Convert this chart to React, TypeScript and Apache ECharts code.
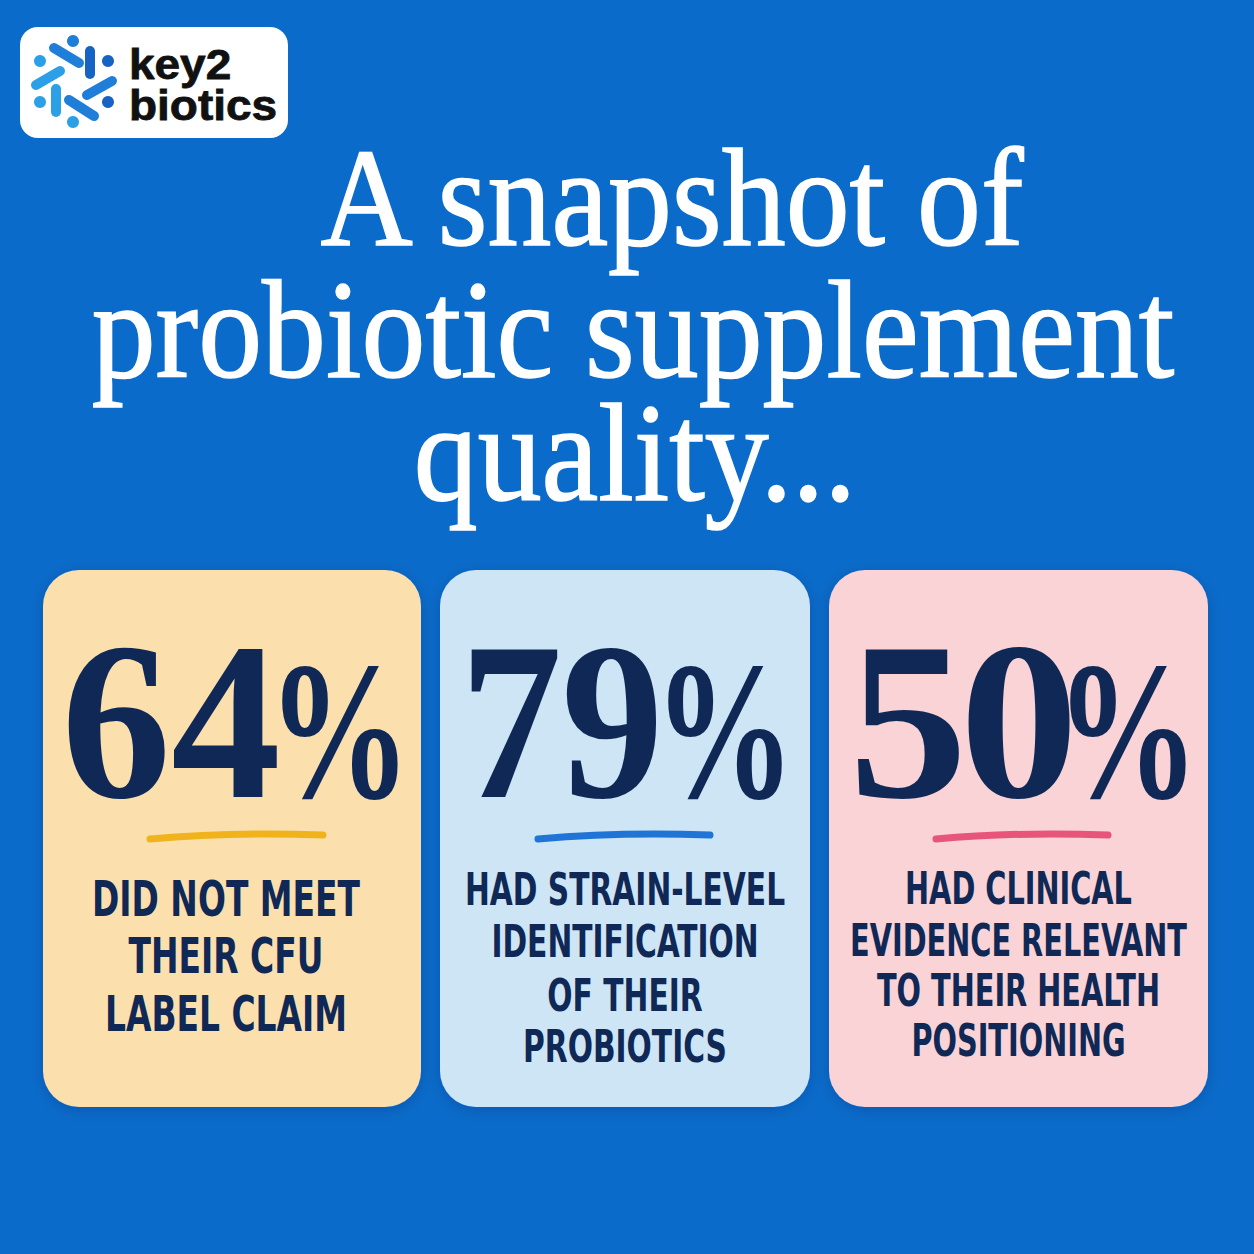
import { useEffect, useRef } from 'react'
import * as echarts from 'echarts'
import type { EChartsOption } from 'echarts'

// chart content
const brandLines = ['key2', 'biotics']
const titleLines = ['A snapshot of', 'probiotic supplement', 'quality...']
const statValues = [64, 79, 50]
const statLabels = [
  ['DID NOT MEET', 'THEIR CFU', 'LABEL CLAIM'],
  ['HAD STRAIN-LEVEL', 'IDENTIFICATION', 'OF THEIR', 'PROBIOTICS'],
  ['HAD CLINICAL', 'EVIDENCE RELEVANT', 'TO THEIR HEALTH', 'POSITIONING'],
]

// styles
const BG = '#0b6bca'
const NAVY = '#0f2856'
const CARD_FILL = ['#fbe0ae', '#cde5f5', '#f9d3d5']
const ACCENT = ['#f1b31c', '#1f74d6', '#e8557a']
const ICON_LIGHT = '#2ba0e6'
const ICON_MID = '#1f7fd8'
const ICON_DARK = '#1763c3'

// layout
const SIZE = 1254
const TITLE_CENTERS = [672, 633, 635]
const TITLE_MIDS = [198, 330, 453]
const TITLE_FONT = "140px 'Liberation Serif', 'Times New Roman', serif"
const BRAND_FONT = "bold 43px 'Liberation Sans', Arial, sans-serif"
const CARD_X = [43, 440, 829]
const CARD_W = [378, 370, 379]
const CARD_Y = 570
const CARD_H = 537
const DIGIT_FONT = "bold 224px 'Liberation Serif', 'Times New Roman', serif"
const PCT_FONT = "bold 198px 'Liberation Serif', 'Times New Roman', serif"
const DIGIT_X = [68, 471, 857]
const DIGIT_W = [209, 185, 213]
const DIGIT_GAP = 9
const PCT_X = [282, 668, 1070]
const PCT_W = [116, 114, 116]
const DIGIT_MID = 721
const PCT_MID = 730
const LABEL_ROWS = [
  [898, 955, 1013],
  [889, 941, 995, 1046],
  [888, 940, 990, 1040],
]
const LABEL_WIDTH = [268, 320, 337]
const LABEL_FONT_SIZE = [50, 45, 45]
const UNDERLINE_X = [
  [150, 323],
  [538, 710],
  [936, 1108],
]

let measureCtx: CanvasRenderingContext2D | null = null
function measure(text: string, font: string) {
  if (!measureCtx) measureCtx = document.createElement('canvas').getContext('2d')
  measureCtx!.font = font
  const m = measureCtx!.measureText(text)
  return { width: m.width, inkL: -m.actualBoundingBoxLeft, inkR: m.actualBoundingBoxRight }
}

function labelFont(size: number) {
  return `bold ${size}px 'DejaVu Sans Condensed', 'DejaVu Sans', sans-serif`
}

// glyph-by-glyph placement so the ink of the characters fills [x, x + w]
function inkRow(chars: string[], font: string, x: number, w: number, gap: number, y: number) {
  const inks = chars.map((c) => measure(c, font))
  const total = inks.reduce((s, m) => s + (m.inkR - m.inkL), 0)
  const sx = (w - gap * (chars.length - 1)) / total
  let cursor = x
  return chars.map((c, k) => {
    const m = inks[k]
    const el = {
      type: 'text',
      x: cursor - sx * m.inkL,
      y,
      scaleX: sx,
      style: {
        text: c,
        font,
        fill: NAVY,
        textAlign: 'left',
        textVerticalAlign: 'middle',
      },
    }
    cursor += sx * (m.inkR - m.inkL) + gap
    return el
  })
}

function logoElements() {
  const rods: Array<[number, number, number, number, string]> = [
    [54, 48, 79, 63, ICON_MID],
    [90, 51, 90, 74, ICON_DARK],
    [36, 85, 60, 71, ICON_LIGHT],
    [87, 95, 112, 81, ICON_MID],
    [56, 89, 56, 112, ICON_LIGHT],
    [69, 100, 94, 116, ICON_MID],
  ]
  const dots: Array<[number, number, string]> = [
    [73, 41, ICON_MID],
    [108, 61, ICON_DARK],
    [40, 61, ICON_LIGHT],
    [40, 102, ICON_LIGHT],
    [108, 102, ICON_DARK],
    [73, 122, ICON_LIGHT],
  ]
  const els: any[] = [
    {
      type: 'rect',
      shape: { x: 20, y: 27, width: 268, height: 111, r: 18 },
      style: { fill: '#ffffff' },
    },
  ]
  rods.forEach(([x1, y1, x2, y2, c]) =>
    els.push({
      type: 'line',
      shape: { x1, y1, x2, y2 },
      style: { stroke: c, lineWidth: 10, lineCap: 'round' },
    }),
  )
  dots.forEach(([cx, cy, c]) =>
    els.push({ type: 'circle', shape: { cx, cy, r: 6 }, style: { fill: c } }),
  )
  const m = measure(brandLines[1], BRAND_FONT)
  const sx = 145 / (m.inkR - m.inkL)
  brandLines.forEach((t, i) =>
    els.push({
      type: 'text',
      x: 129,
      y: 64 + i * 41,
      scaleX: sx,
      style: {
        text: t,
        font: BRAND_FONT,
        fill: '#111111',
        stroke: '#111111',
        lineWidth: 0.8,
        textAlign: 'left',
        textVerticalAlign: 'middle',
      },
    }),
  )
  return els
}

function buildOption(): EChartsOption {
  const els: any[] = [...logoElements()]

  // title, all lines share one horizontal scale fitted to the widest line
  const titleScaleX = 1083 / measure(titleLines[1], TITLE_FONT).width
  titleLines.forEach((t, i) =>
    els.push({
      type: 'text',
      x: TITLE_CENTERS[i],
      y: TITLE_MIDS[i],
      scaleX: titleScaleX,
      style: {
        text: t,
        font: TITLE_FONT,
        fill: '#ffffff',
        stroke: '#ffffff',
        lineWidth: 1.6,
        textAlign: 'center',
        textVerticalAlign: 'middle',
      },
    }),
  )

  statValues.forEach((v, i) => {
    const cx = CARD_X[i] + CARD_W[i] / 2
    els.push({
      type: 'rect',
      shape: { x: CARD_X[i], y: CARD_Y, width: CARD_W[i], height: CARD_H, r: 36 },
      style: {
        fill: CARD_FILL[i],
        shadowBlur: 14,
        shadowColor: 'rgba(0, 20, 60, 0.18)',
        shadowOffsetY: 3,
      },
    })

    // digits and the smaller percent sign
    els.push(...inkRow(String(v).split(''), DIGIT_FONT, DIGIT_X[i], DIGIT_W[i], DIGIT_GAP, DIGIT_MID))
    els.push(...inkRow(['%'], PCT_FONT, PCT_X[i], PCT_W[i], 0, PCT_MID))

    const [ux1, ux2] = UNDERLINE_X[i]
    els.push({
      type: 'bezierCurve',
      shape: {
        x1: ux1,
        y1: 839,
        x2: ux2,
        y2: 835,
        cpx1: ux1 + 55,
        cpy1: 834,
        cpx2: ux2 - 55,
        cpy2: 833,
      },
      style: { stroke: ACCENT[i], lineWidth: 7, lineCap: 'round', fill: 'none' },
    })

    const font = labelFont(LABEL_FONT_SIZE[i])
    const widest = Math.max(...statLabels[i].map((l) => measure(l, font).width))
    const sx = LABEL_WIDTH[i] / widest
    statLabels[i].forEach((line, r) =>
      els.push({
        type: 'text',
        x: cx - (i === 0 ? 6 : 0),
        y: LABEL_ROWS[i][r],
        scaleX: sx,
        style: {
          text: line,
          font,
          fill: NAVY,
          textAlign: 'center',
          textVerticalAlign: 'middle',
        },
      }),
    )
  })

  return {
    animation: false,
    backgroundColor: BG,
    graphic: { elements: els },
  }
}

export default function App() {
  const ref = useRef<HTMLDivElement>(null)

  useEffect(() => {
    const el = ref.current
    if (!el) return
    const chart = echarts.init(el, undefined, { renderer: 'svg' })
    chart.setOption(buildOption())
    return () => chart.dispose()
  }, [])

  return (
    <div
      ref={ref}
      style={{ position: 'absolute', left: 0, top: 0, width: SIZE, height: SIZE }}
      role="img"
      aria-label="A snapshot of probiotic supplement quality"
    />
  )
}
